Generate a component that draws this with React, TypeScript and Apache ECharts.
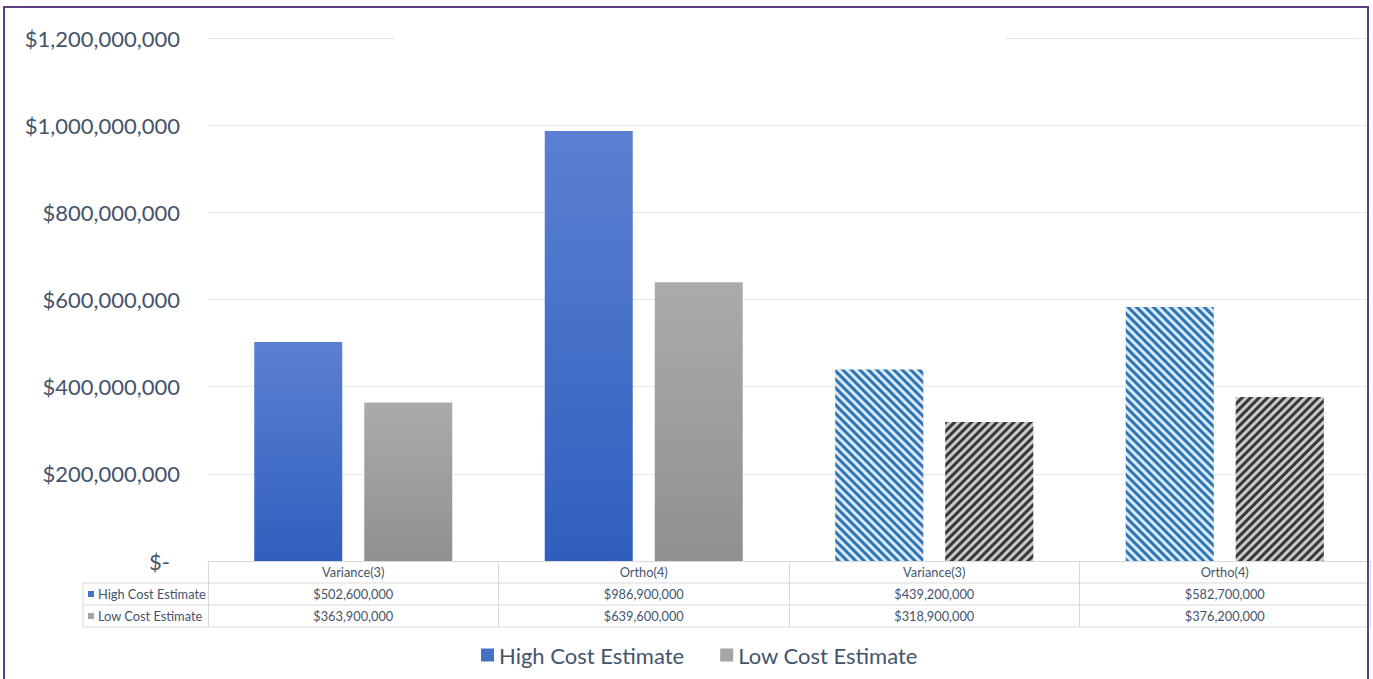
import React, { useEffect, useRef } from "react";
import * as echarts from "echarts";

// Cost estimates per scenario (USD)
const categories = ["Variance(3)", "Ortho(4)", "Variance(3)", "Ortho(4)"];
const highCost = [502600000, 986900000, 439200000, 582700000];
const lowCost = [363900000, 639600000, 318900000, 376200000];
// Scenarios drawn with a hatched fill
const hatched = [false, false, true, true];
const seriesNames = ["High Cost Estimate", "Low Cost Estimate"];

const FONT = "Lato, 'Noto Sans', sans-serif";
const TEXT = "#44546A";
const TABLE_LINE = "#D9D9D9";
const TABLE_FONT = 12.8;

const money = (v: number) => (v === 0 ? "$-" : "$" + v.toLocaleString("en-US"));

const blueGradient = () =>
  new echarts.graphic.LinearGradient(0, 0, 0, 1, [
    { offset: 0, color: "#5B80D1" },
    { offset: 1, color: "#2F5FBE" },
  ]);
const grayGradient = () =>
  new echarts.graphic.LinearGradient(0, 0, 0, 1, [
    { offset: 0, color: "#ABABAB" },
    { offset: 1, color: "#909090" },
  ]);

function barData(values: number[], solid: () => any, hatchBg: string, hatchFg: string, rot: number) {
  return values.map((v, i) =>
    hatched[i]
      ? {
          value: v,
          itemStyle: {
            color: hatchBg,
            decal: {
              symbol: "rect",
              symbolSize: 1,
              color: hatchFg,
              dashArrayX: [1, 0],
              dashArrayY: [3, 3],
              rotation: rot,
            },
          },
        }
      : { value: v, itemStyle: { color: solid() } }
  );
}

export default function App() {
  const ref = useRef<HTMLDivElement>(null);

  useEffect(() => {
    if (!ref.current) return;
    const chart = echarts.init(ref.current, undefined, { renderer: "svg" });

    const tableRows = [583, 605, 627];
    const graphics: any[] = [
      // gap in the top gridline
      { type: "rect", z: 50, shape: { x: 395, y: 34, width: 610, height: 8 }, style: { fill: "#FFFFFF" } },
      // data table rules
      ...tableRows.map((y) => ({
        type: "line",
        z: 60,
        shape: { x1: 83, y1: y, x2: 1370, y2: y },
        style: { stroke: TABLE_LINE, lineWidth: 1 },
      })),
      { type: "line", z: 60, shape: { x1: 83, y1: 583, x2: 83, y2: 627 }, style: { stroke: TABLE_LINE, lineWidth: 1 } },
      // row keys
      { type: "rect", z: 60, shape: { x: 88, y: 591, width: 6, height: 6 }, style: { fill: "#4472C4" } },
      { type: "rect", z: 60, shape: { x: 88, y: 613, width: 6, height: 6 }, style: { fill: "#A5A5A5" } },
      {
        type: "text",
        z: 60,
        x: 98,
        y: 594,
        style: { text: seriesNames[0], fill: TEXT, font: `${TABLE_FONT}px ${FONT}`, verticalAlign: "middle" },
      },
      {
        type: "text",
        z: 60,
        x: 98,
        y: 616,
        style: { text: seriesNames[1], fill: TEXT, font: `${TABLE_FONT}px ${FONT}`, verticalAlign: "middle" },
      },
      // frame
      {
        type: "rect",
        z: 100,
        shape: { x: 4, y: 7, width: 1364, height: 700 },
        style: { fill: "none", stroke: "#5E3F82", lineWidth: 2 },
      },
    ];

    chart.setOption({
      animation: false,
      backgroundColor: "#FFFFFF",
      textStyle: { fontFamily: FONT },
      grid: { left: 208, right: 3, top: 38, bottom: 118, containLabel: false },
      legend: {
        left: 481,
        top: 644,
        padding: 0,
        icon: "rect",
        itemWidth: 13,
        itemHeight: 13,
        itemGap: 36,
        textStyle: { fontFamily: FONT, fontSize: 22, color: TEXT },
        data: [
          { name: seriesNames[0], itemStyle: { color: "#4472C4", decal: "none" } },
          { name: seriesNames[1], itemStyle: { color: "#A5A5A5", decal: "none" } },
        ],
      },
      xAxis: {
        type: "category",
        data: categories,
        axisLine: { show: true, lineStyle: { color: TABLE_LINE, width: 1 } },
        axisTick: { show: true, length: 66, lineStyle: { color: TABLE_LINE } },
        axisLabel: {
          interval: 0,
          margin: 0,
          formatter: (value: string, idx: number) =>
            `{h|${value}}\n{v|${money(highCost[idx])}}\n{v|${money(lowCost[idx])}}`,
          rich: {
            h: { fontFamily: FONT, fontSize: TABLE_FONT, color: TEXT, lineHeight: 22, height: 22 },
            v: { fontFamily: FONT, fontSize: TABLE_FONT, color: TEXT, lineHeight: 22, height: 22 },
          },
        },
      },
      yAxis: {
        type: "value",
        min: 0,
        max: 1200000000,
        interval: 200000000,
        axisLine: { show: false },
        axisTick: { show: false },
        splitLine: { lineStyle: { color: "#E4E9EF", width: 1 } },
        axisLabel: {
          margin: 28,
          formatter: (v: number) => (v === 0 ? "{z|$-}" : money(v)),
          fontFamily: FONT,
          fontSize: 22,
          color: TEXT,
          rich: { z: { fontFamily: FONT, fontSize: 22, color: TEXT, padding: [0, 10, 0, 0] } },
        },
      },
      series: [
        {
          name: seriesNames[0],
          type: "bar",
          barWidth: 88,
          barGap: "25%",
          data: barData(highCost, blueGradient, "#DBE8F6", "#2E75B6", Math.PI / 4),
        },
        {
          name: seriesNames[1],
          type: "bar",
          barWidth: 88,
          data: barData(lowCost, grayGradient, "#C9C9C9", "#383838", -Math.PI / 4),
        },
      ],
      graphic: graphics,
    });

    return () => chart.dispose();
  }, []);

  return (
    <div
      ref={ref}
      style={{ position: "absolute", left: 0, top: 0, width: 1373, height: 679 }}
    />
  );
}
